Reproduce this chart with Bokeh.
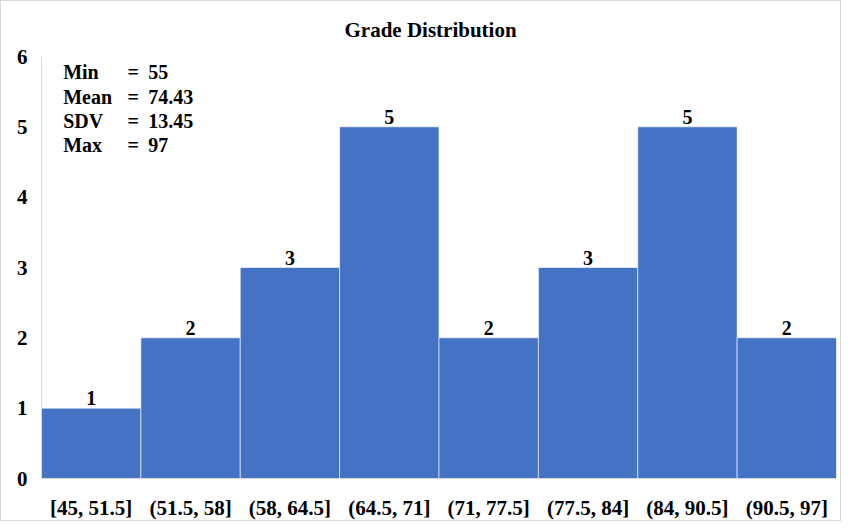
from bokeh.plotting import figure
from bokeh.models import ColumnDataSource, FactorRange, Range1d, FixedTicker
from bokeh.embed import file_html
from bokeh.resources import INLINE
from bokeh.core.properties import value

categories = ["[45, 51.5]", "(51.5, 58]", "(58, 64.5]", "(64.5, 71]",
              "(71, 77.5]", "(77.5, 84]", "(84, 90.5]", "(90.5, 97]"]
counts = [1, 2, 3, 5, 2, 3, 5, 2]
y_ticks = [0, 1, 2, 3, 4, 5, 6]
stat_names = ["Min", "Mean", "SDV", "Max"]
stat_values = ["55", "74.43", "13.45", "97"]

FONT = "Liberation Serif"
BAR = "#4472C4"
AXIS = "#D9D9D9"

src = ColumnDataSource(dict(cat=categories, count=counts,
                            lbl=[str(c) for c in counts]))

p = figure(width=841, height=521, x_range=FactorRange(*categories, range_padding=0),
           y_range=Range1d(0, 6), output_backend="svg", toolbar_location=None,
           min_border_left=40, min_border_right=6, min_border_top=55,
           min_border_bottom=38)
p.styles = {"border": "1px solid #D9D9D9", "box-sizing": "border-box"}
p.outline_line_color = None
p.xgrid.grid_line_color = None
p.ygrid.grid_line_color = None
p.background_fill_color = "white"

p.vbar(x="cat", top="count", width=1.0, source=src, fill_color=BAR,
       line_color="white", line_alpha=0.6, line_width=1)
p.text(x="cat", y="count", text="lbl", source=src, text_align="center",
       text_baseline="bottom", y_offset=-3, text_font=value(FONT),
       text_font_style="bold", text_font_size="20px", text_color="black")

# title
p.title.text = "Grade Distribution"
p.title.text_font = FONT
p.title.text_font_style = "bold"
p.title.text_font_size = "21px"
p.title.text_color = "black"
p.title.align = "left"
p.title.offset = 303
p.title.standoff = 29

for ax in (p.xaxis, p.yaxis):
    ax.axis_line_color = AXIS
    ax.major_tick_line_color = None
    ax.minor_tick_line_color = None
    ax.major_label_text_font = FONT
    ax.major_label_text_font_style = "bold"
    ax.major_label_text_font_size = "21px"
    ax.major_label_text_color = "black"
p.yaxis.ticker = FixedTicker(ticks=y_ticks)
p.yaxis.major_label_standoff = 8
p.xaxis.major_label_standoff = 11

# summary statistics
offsets = [15, 40, 64, 88]
n = len(stat_names)
x0 = [categories[0]] * n
common = dict(text_baseline="middle", text_font=value(FONT),
              text_font_style="bold", text_font_size="20px", text_color="black")
p.text(x=x0, y=[6] * n, text=stat_names, x_offset=-28, y_offset=offsets,
       text_align="left", **common)
p.text(x=x0, y=[6] * n, text=["="] * n, x_offset=42, y_offset=offsets,
       text_align="center", **common)
p.text(x=x0, y=[6] * n, text=stat_values, x_offset=57, y_offset=offsets,
       text_align="left", **common)

open("out.html", "w").write(file_html(p, INLINE))
